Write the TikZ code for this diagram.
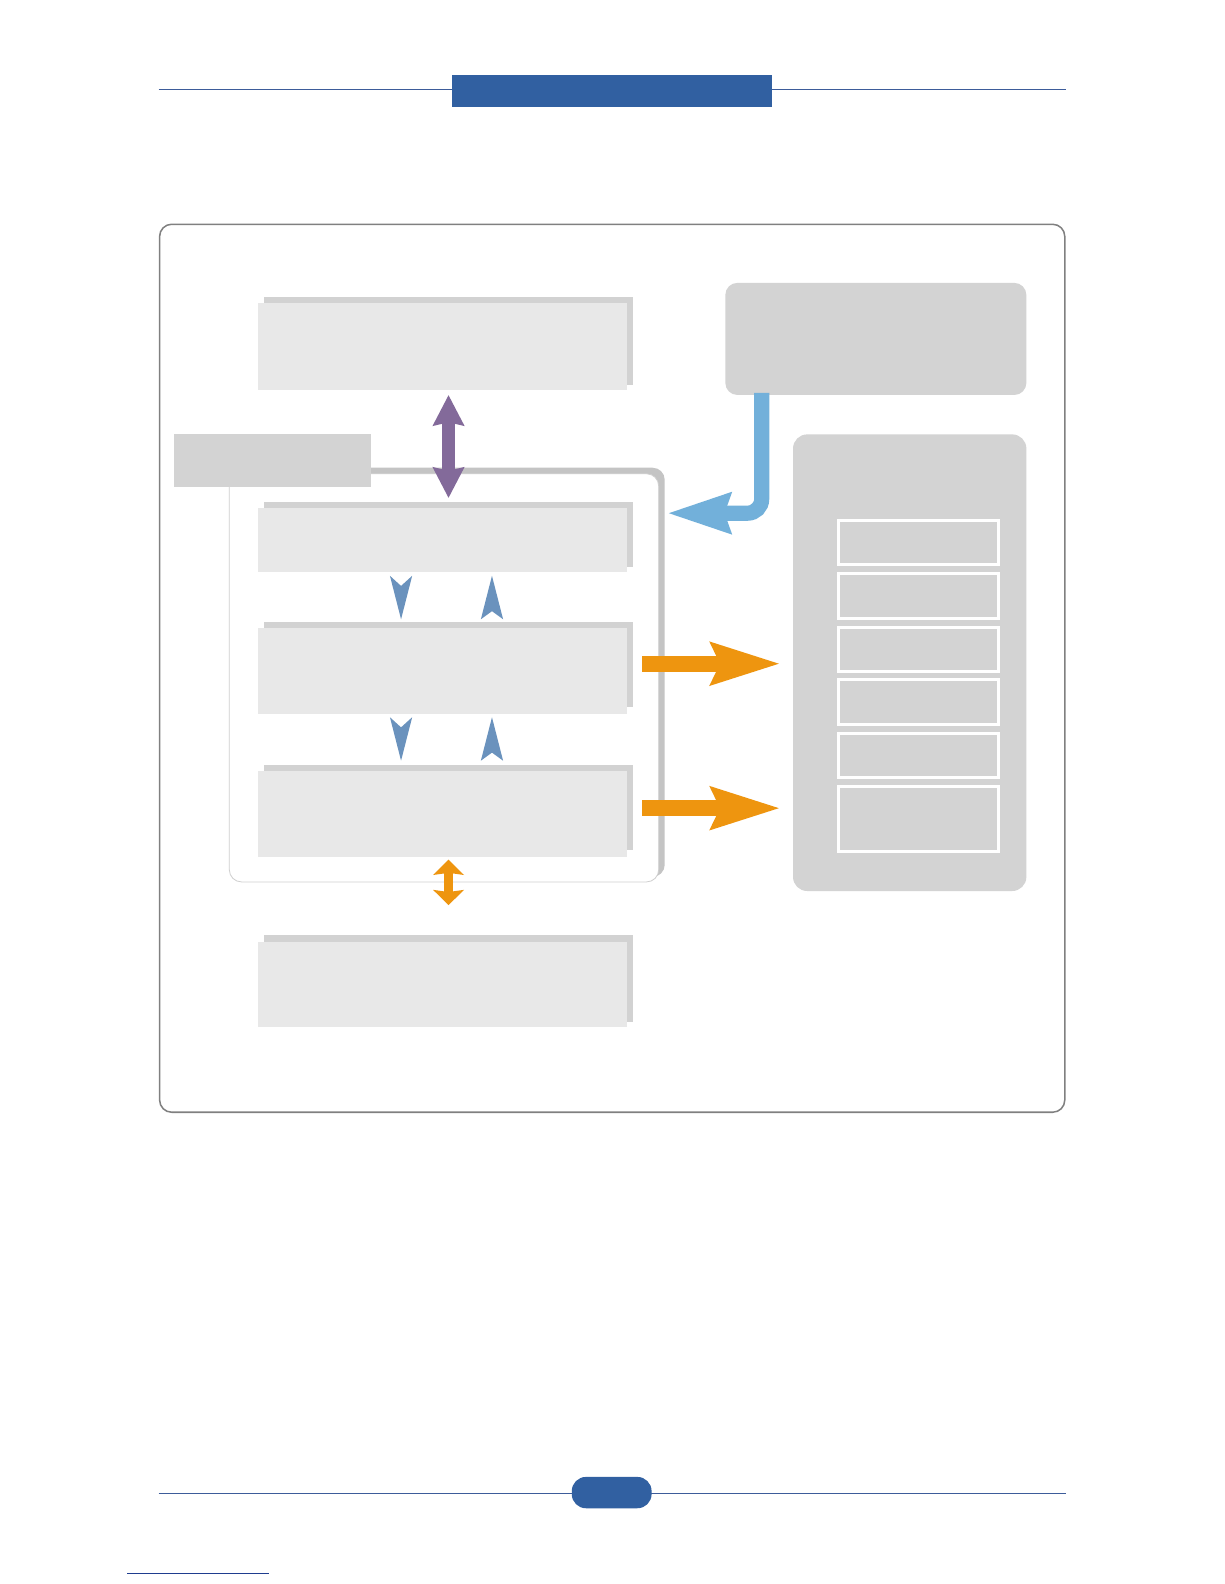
\documentclass[tikz,border=0pt]{standalone}
\usetikzlibrary{arrows.meta,calc}
\definecolor{hdrblue}{HTML}{3160A1}
\definecolor{hdrline}{HTML}{3D5C9A}
\definecolor{framegray}{HTML}{808080}
\definecolor{boxlight}{HTML}{E8E8E8}
\definecolor{boxshadow}{HTML}{D2D2D2}
\definecolor{boxdark}{HTML}{D3D3D3}
\definecolor{contshadow}{HTML}{C4C4C4}
\definecolor{contline}{HTML}{CFCFCF}
\definecolor{purp}{HTML}{836A9A}
\definecolor{steel}{HTML}{6A92BD}
\definecolor{lblue}{HTML}{72B0DA}
\definecolor{orng}{HTML}{EE950F}
\definecolor{linkblue}{HTML}{1F3D8F}
\tikzset{
  blk/.style={inner sep=0pt, outer sep=0pt, anchor=north west},
  lbox/.style={blk, fill=boxlight, minimum width=366pt},
  sbox/.style={blk, fill=boxshadow, minimum width=366pt},
  dbox/.style={blk, fill=boxdark},
  ibox/.style={blk, fill=boxdark, draw=white, line width=3pt, minimum width=158pt},
  purparrow/.style={purp, line width=12pt, {Stealth[length=30pt,width=30pt,inset=3pt]}-{Stealth[length=30pt,width=30pt,inset=3pt]}},
  orarrow/.style={orng, line width=16pt, -{Stealth[length=68pt,width=40pt,inset=8pt]}},
  ordbl/.style={orng, line width=9pt, {Stealth[length=15pt,width=30pt,inset=2pt]}-{Stealth[length=15pt,width=30pt,inset=2pt]}},
  blarrow/.style={lblue, line width=15pt, rounded corners=14pt, -{Stealth[length=62pt,width=38pt,inset=5pt]}},
}
\begin{document}
\begin{tikzpicture}[x=1pt,y=-1pt]
\useasboundingbox (0,0) rectangle (1212,1568);
\fill[white] (0,0) rectangle (1212,1568);

% header
\draw[hdrline, line width=1pt] (157,89) -- (1055,89);
\node[blk, fill=hdrblue, minimum width=317pt, minimum height=32pt] (hdr) at (447,74) {};

% outer frame
\node[blk, draw=framegray, line width=1.5pt, rounded corners=12pt, minimum width=896pt, minimum height=879pt] (frame) at (158,222) {};

% top left box A
\node[sbox, minimum height=87pt] (As) at (261,294) {};
\node[lbox, minimum height=86pt] (A) at (255,300) {};

% top right box
\node[dbox, rounded corners=12pt, minimum width=298pt, minimum height=111pt] (TR) at (718,280) {};

% container
\node[blk, fill=contshadow, rounded corners=12pt, minimum width=427pt, minimum height=405pt] (conts) at (231,463) {};
\node[blk, fill=white, draw=contline, line width=0.8pt, rounded corners=12pt, minimum width=425pt, minimum height=404pt] (cont) at (227,469) {};

% label box
\node[dbox, minimum width=195pt, minimum height=52pt] (L) at (172,430) {};

% inner boxes
\node[sbox, minimum height=64pt] (Bs) at (261,497) {};
\node[lbox, minimum height=63pt] (B) at (255,503) {};
\node[sbox, minimum height=84pt] (Cs) at (261,616) {};
\node[lbox, minimum height=85pt] (C) at (255,622) {};
\node[sbox, minimum height=84pt] (Ds) at (261,757) {};
\node[lbox, minimum height=85pt] (D) at (255,763) {};
\node[sbox, minimum height=86pt] (Es) at (261,926) {};
\node[lbox, minimum height=85pt] (E) at (255,932) {};

% right container
\node[dbox, rounded corners=14pt, minimum width=231pt, minimum height=452pt] (R) at (785,430) {};
\node[ibox, minimum height=44pt] (R1) at (830,515) {};
\node[ibox, minimum height=44pt] (R2) at (830,568) {};
\node[ibox, minimum height=44pt] (R3) at (830,621) {};
\node[ibox, minimum height=44pt] (R4) at (830,673) {};
\node[ibox, minimum height=44pt] (R5) at (830,726) {};
\node[ibox, minimum height=64pt] (R6) at (830,779) {};

% purple double arrow A <-> B
\coordinate (pa) at ($(A.south)+(6,5)$);
\coordinate (pb) at ($(pa |- Bs.north)+(0,-4)$);
\draw[purparrow] (pa) -- (pb);

% small steel arrows B <-> C and C <-> D
\coordinate (bc1) at ($(B.south)+(-41,4)$);
\coordinate (bc2) at ($(bc1 |- Cs.north)+(0,-3)$);
\coordinate (bc3) at ($(B.south)+(49,4)$);
\coordinate (bc4) at ($(bc3 |- Cs.north)+(0,-3)$);
\coordinate (cd1) at ($(C.south)+(-41,3)$);
\coordinate (cd2) at ($(cd1 |- Ds.north)+(0,-4)$);
\coordinate (cd3) at ($(C.south)+(49,3)$);
\coordinate (cd4) at ($(cd3 |- Ds.north)+(0,-4)$);
\fill[steel] ($(bc1)+(-11,0)$) -- ($(bc1)+(0,10)$) -- ($(bc1)+(11,0)$) -- (bc2) -- cycle;
\fill[steel] ($(bc4)+(-11,0)$) -- ($(bc4)+(0,-8)$) -- ($(bc4)+(11,0)$) -- (bc3) -- cycle;
\fill[steel] ($(cd1)+(-11,0)$) -- ($(cd1)+(0,10)$) -- ($(cd1)+(11,0)$) -- (cd2) -- cycle;
\fill[steel] ($(cd4)+(-11,0)$) -- ($(cd4)+(0,-8)$) -- ($(cd4)+(11,0)$) -- (cd3) -- cycle;

% orange double arrow D <-> E
\coordinate (de1) at ($(D.south)+(6,3)$);
\coordinate (de2) at ($(de1 |- Es.north)+(0,-30)$);
\draw[ordbl] (de1) -- (de2);

% orange arrows to right container
\coordinate (o1) at ($(R.west |- C.east)+(-12,-7.5)$);
\coordinate (o2) at ($(R.west |- D.east)+(-12,-5.5)$);
\draw[orarrow] ($(C.east)+(15,-7.5)$) -- (o1);
\draw[orarrow] ($(D.east)+(15,-5.5)$) -- (o2);

% light blue L arrow
\coordinate (bltip) at (660,508);
\draw[blarrow] ([xshift=36pt,yshift=2pt]TR.south west) |- (bltip);

% footer
\draw[hdrline, line width=1pt] (157,1478) -- (1055,1478);
\node[blk, fill=hdrblue, rounded corners=14pt, minimum width=79pt, minimum height=31pt] (pg) at (566,1462) {};
\draw[linkblue, line width=1pt] (126,1558) -- (266,1558);
\end{tikzpicture}
\end{document}
